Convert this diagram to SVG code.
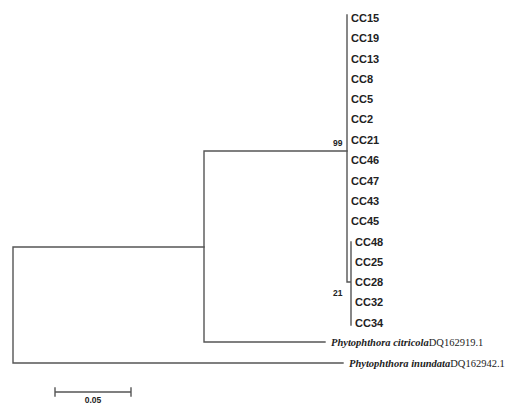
<svg xmlns="http://www.w3.org/2000/svg" width="513" height="404" viewBox="0 0 513 404">
<style>
.br{stroke:#555;stroke-width:1.4;fill:none;stroke-linecap:square}
.cc{font-family:"Liberation Sans",Arial,sans-serif;font-weight:bold;font-size:11px;fill:#222}
.bs{font-family:"Liberation Sans",Arial,sans-serif;font-weight:bold;font-size:8.5px;fill:#222}
.sp{font-family:"Liberation Serif","Times New Roman",serif;font-size:10.5px;fill:#222}
.it{font-style:italic;font-weight:bold}
</style>
<rect width="513" height="404" fill="#fff"/>
<g id="connectors" class="br">
<path d="M13,247V363M13,247H204M13,363H343"/>
<path d="M204,151V342M204,151H347M204,342H325"/>
<path d="M347,15V282H351M351,242V325"/>
<path d="M55,388V396M131,388V396M55,392H131"/>
</g>
<g id="leaves" class="cc">
<text id="CC15" x="351" y="22">CC15</text>
<text id="CC19" x="351" y="42">CC19</text>
<text id="CC13" x="351" y="63">CC13</text>
<text id="CC8" x="351" y="83">CC8</text>
<text id="CC5" x="351" y="103">CC5</text>
<text id="CC2" x="351" y="123">CC2</text>
<text id="CC21" x="351" y="144">CC21</text>
<text id="CC46" x="351" y="164">CC46</text>
<text id="CC47" x="351" y="185">CC47</text>
<text id="CC43" x="351" y="205">CC43</text>
<text id="CC45" x="351" y="225">CC45</text>
<text id="CC48" x="355" y="246">CC48</text>
<text id="CC25" x="355" y="266">CC25</text>
<text id="CC28" x="355" y="286">CC28</text>
<text id="CC32" x="355" y="306">CC32</text>
<text id="CC34" x="355" y="327">CC34</text>
</g>
<g id="citricola"><text class="sp" x="331" y="346"><tspan class="it">Phytophthora citricola</tspan>DQ162919.1</text></g>
<g id="inundata"><text class="sp" x="349" y="367"><tspan class="it">Phytophthora inundata</tspan>DQ162942.1</text></g>
<g id="bootstrap">
<text class="bs" x="333" y="146">99</text>
<text class="bs" x="333" y="296">21</text>
</g>
<g id="scale"><text class="bs" x="93" y="403" text-anchor="middle">0.05</text></g>
</svg>
